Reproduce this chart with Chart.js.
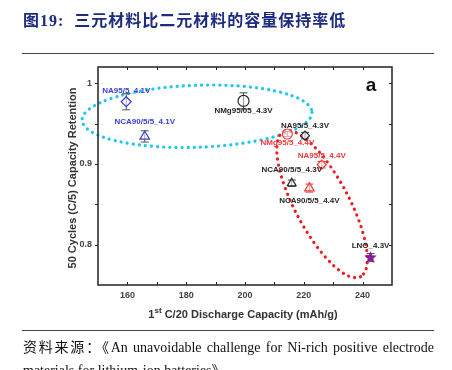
<!DOCTYPE html>
<html>
<head>
<meta charset="utf-8">
<script src="https://cdn.jsdelivr.net/npm/chart.js@4.4.1/dist/chart.umd.min.js"></script>
<style>
  body { margin: 0; background: #fff; width: 452px; height: 370px; overflow: hidden; position: relative; }
  #chart { position: absolute; left: 0; top: 0; }
  .title { position: absolute; left: 23px; top: 7px; font: bold 16px "Liberation Serif", "Noto Sans CJK SC"; color: #1c2b80; letter-spacing: 1px; white-space: nowrap; }
  .rule { position: absolute; left: 22px; width: 412px; height: 1px; background: #444; }
  .source { position: absolute; left: 23px; top: 336px; width: 411px; font: 14px "Liberation Serif", "Noto Sans CJK SC"; line-height: 23px; text-align: justify; color: #111; }
</style>
</head>
<body>
<canvas id="chart" width="452" height="370"></canvas>
<div class="title">图19:&nbsp;&nbsp;三元材料比二元材料的容量保持率低</div>
<div class="rule" style="top:53px"></div>
<div class="rule" style="top:330px"></div>
<div class="source">资料来源：《An unavoidable challenge for Ni-rich positive electrode materials for lithium-ion batteries》</div>
<script>
// samples
const materials = ['NA95/5_4.1V', 'NCA90/5/5_4.1V', 'NMg95/05_4.3V', 'NA95/5_4.3V', 'NMg95/5_4.4V',
                   'NA95/5_4.4V', 'NCA90/5/5_4.3V', 'NCA90/5/5_4.4V', 'LNO_4.3V'];
const capacity = [159.6, 165.9, 199.5, 220.4, 214.4, 226.1, 215.9, 221.9, 242.7];
const retention = [0.977, 0.934, 0.978, 0.935, 0.937, 0.899, 0.876, 0.870, 0.784];
const retentionError = [0.010, 0.007, 0.010, 0.004, 0.003, 0.004, 0.004, 0.005, 0.005];

const xTickValues = [160, 170, 180, 190, 200, 210, 220, 230, 240];
const xTickLabels = [160, 180, 200, 220, 240];
const yTickValues = [0.8, 0.85, 0.9, 0.95, 1];
const yTickLabels = [0.8, 0.9, 1];

const BLUE = '#3c3cd6', RED = '#ee3a3a', BLACK = '#262626', PURPLE = '#8a1a9c';

function makeStar(color, r) {
  const c = document.createElement('canvas');
  const s = Math.ceil(r * 2 + 2);
  c.width = s; c.height = s;
  const g = c.getContext('2d');
  g.beginPath();
  for (let i = 0; i < 10; i++) {
    const rad = i % 2 ? r * 0.45 : r;
    const a = -Math.PI / 2 + i * Math.PI / 5;
    g.lineTo(s / 2 + rad * Math.cos(a), s / 2 + rad * Math.sin(a));
  }
  g.closePath();
  g.fillStyle = color;
  g.fill();
  return c;
}

const markerShapes = ['rectRot', 'triangle', 'circle', 'rectRot', 'circle', 'rectRot', 'triangle', 'triangle', makeStar(PURPLE, 6.5)];
const markerColors = [BLUE, BLUE, BLACK, BLACK, RED, RED, BLACK, RED, PURPLE];
const markerSizes = [5, 5.5, 5.5, 4.5, 5, 4.5, 5, 5.5, 6];
const errorColors = ['#555', '#555', '#444', '#444', RED, RED, '#444', RED, '#555'];
const labelColors = [BLUE, BLUE, BLACK, BLACK, RED, RED, BLACK, BLACK, BLACK];
const labelOffsets = [[0, -11], [0, -15], [0, 10], [0, -10], [0, 9], [0, -8.5], [0, -13], [0, 13], [0, -12]];

// dotted guide ellipses: centre in data units, radii in px
const ellipses = [
  { cx: 183.7, cy: 0.959, rx: 115, ry: 31, angle: -2, color: '#1ec6f2' },
  { cx: 226.2, cy: 0.850, rx: 82, ry: 27, angle: 62, color: '#ee1c22' }
];

const near = (list, v) => list.some(l => Math.abs(l - v) < 1e-9);

const decorations = {
  id: 'decorations',
  beforeDatasetsDraw(chart) {
    const { ctx, scales: { x, y } } = chart;
    ctx.save();
    ellipses.forEach(e => {
      ctx.beginPath();
      ctx.ellipse(x.getPixelForValue(e.cx), y.getPixelForValue(e.cy), e.rx, e.ry, e.angle * Math.PI / 180, 0, Math.PI * 2);
      ctx.setLineDash([0.1, 6]);
      ctx.lineCap = 'round';
      ctx.lineWidth = 3.2;
      ctx.strokeStyle = e.color;
      ctx.stroke();
    });
    ctx.setLineDash([]);
    ctx.lineCap = 'butt';
    ctx.lineWidth = 1;
    capacity.forEach((c, i) => {
      const px = x.getPixelForValue(c);
      const top = y.getPixelForValue(retention[i] + retentionError[i]);
      const bot = y.getPixelForValue(retention[i] - retentionError[i]);
      ctx.strokeStyle = errorColors[i];
      ctx.beginPath();
      ctx.moveTo(px, top); ctx.lineTo(px, bot);
      ctx.moveTo(px - 4, top); ctx.lineTo(px + 4, top);
      ctx.moveTo(px - 4, bot); ctx.lineTo(px + 4, bot);
      ctx.stroke();
    });
    ctx.restore();
  },
  afterDatasetsDraw(chart) {
    const { ctx, scales: { x, y } } = chart;
    ctx.save();
    ctx.font = 'bold 8px "Liberation Sans", Arial';
    ctx.textAlign = 'center';
    ctx.textBaseline = 'middle';
    materials.forEach((m, i) => {
      ctx.fillStyle = labelColors[i];
      ctx.fillText(m, x.getPixelForValue(capacity[i]) + labelOffsets[i][0], y.getPixelForValue(retention[i]) + labelOffsets[i][1]);
    });
    ctx.restore();
  },
  afterDraw(chart) {
    const { ctx, chartArea: a, scales: { x, y } } = chart;
    ctx.save();
    ctx.strokeStyle = '#222';
    ctx.lineWidth = 1.5;
    ctx.strokeRect(a.left, a.top, a.right - a.left, a.bottom - a.top);
    ctx.lineWidth = 1;
    ctx.beginPath();
    xTickValues.forEach(v => {
      const px = Math.round(x.getPixelForValue(v)) + 0.5;
      ctx.moveTo(px, a.bottom); ctx.lineTo(px, a.bottom - 3);
      ctx.moveTo(px, a.top); ctx.lineTo(px, a.top + 3);
    });
    yTickValues.forEach(v => {
      const py = Math.round(y.getPixelForValue(v)) + 0.5;
      ctx.moveTo(a.left, py); ctx.lineTo(a.left - 3, py);
      ctx.moveTo(a.right, py); ctx.lineTo(a.right - 3, py);
    });
    ctx.stroke();

    // panel letter
    ctx.fillStyle = '#111';
    ctx.font = 'bold 19px "Liberation Sans", Arial';
    ctx.textAlign = 'center';
    ctx.textBaseline = 'middle';
    ctx.fillText('a', 371, 86);

    // y title
    ctx.fillStyle = '#333';
    ctx.font = 'bold 11px "Liberation Sans", Arial';
    ctx.save();
    ctx.translate(73, (a.top + a.bottom) / 2 + 2);
    ctx.rotate(-Math.PI / 2);
    ctx.fillText('50 Cycles (C/5) Capacity Retention', 0, 0);
    ctx.restore();

    // x title with superscript
    const big = 'bold 11px "Liberation Sans", Arial', small = 'bold 8px "Liberation Sans", Arial';
    const rest = ' C/20 Discharge Capacity (mAh/g)';
    ctx.font = big; const w1 = ctx.measureText('1').width, w3 = ctx.measureText(rest).width;
    ctx.font = small; const w2 = ctx.measureText('st').width;
    let sx = (a.left + a.right) / 2 - (w1 + w2 + w3) / 2 - 2;
    const base = 318;
    ctx.textAlign = 'left';
    ctx.textBaseline = 'alphabetic';
    ctx.font = big; ctx.fillText('1', sx, base); sx += w1;
    ctx.font = small; ctx.fillText('st', sx, base - 5); sx += w2;
    ctx.font = big; ctx.fillText(rest, sx, base);
    ctx.restore();
  }
};

const tickFont = { size: 9, weight: 'bold', family: '"Liberation Sans", Arial' };

new Chart(document.getElementById('chart'), {
  type: 'scatter',
  data: {
    datasets: [{
      data: capacity.map((c, i) => ({ x: c, y: retention[i] })),
      pointStyle: markerShapes,
      pointRadius: markerSizes,
      borderColor: markerColors,
      backgroundColor: 'rgba(255,255,255,0.5)',
      borderWidth: 1.2
    }]
  },
  options: {
    responsive: false,
    animation: false,
    layout: { padding: { top: 67, right: 60, left: 0, bottom: 0 } },
    plugins: { legend: { display: false }, tooltip: { enabled: false } },
    scales: {
      x: {
        type: 'linear', min: 150, max: 250,
        grid: { display: false, drawTicks: false },
        border: { display: false },
        afterBuildTicks: s => { s.ticks = xTickValues.map(v => ({ value: v })); },
        afterFit: s => { s.height = 85; },
        ticks: {
          font: tickFont, color: '#444', padding: 5, maxRotation: 0, autoSkip: false,
          callback: v => near(xTickLabels, v) ? String(v) : ''
        }
      },
      y: {
        type: 'linear', min: 0.75, max: 1.02,
        grid: { display: false, drawTicks: false },
        border: { display: false },
        afterBuildTicks: s => { s.ticks = yTickValues.map(v => ({ value: v })); },
        afterFit: s => { s.width = 98; },
        ticks: {
          font: tickFont, color: '#444', padding: 6, autoSkip: false,
          callback: v => near(yTickLabels, v) ? String(+v.toFixed(2)) : ''
        }
      }
    }
  },
  plugins: [decorations]
});
</script>
</body>
</html>
